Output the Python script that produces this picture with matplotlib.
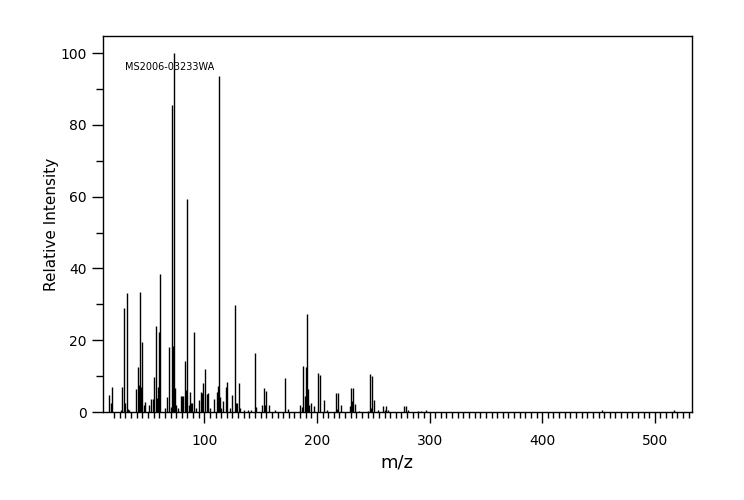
import matplotlib.pyplot as plt
import numpy as np

# picos do espectro (m/z, intensidade relativa)
mz = [15, 17, 18, 26, 27, 29, 30, 31, 32, 33, 39, 41, 42, 43, 44, 45, 46, 47,
      51, 53, 54, 55, 57, 58, 59, 60, 61, 65, 67, 69, 70, 71, 72, 73, 74, 75,
      77, 79, 80, 81, 83, 84, 85, 86, 87, 88, 89, 91, 93, 95, 97, 98, 99, 101,
      102, 103, 105, 109, 111, 112, 113, 114, 115, 117, 119, 120, 123, 125, 127,
      128, 129, 131, 132, 135, 139, 141, 145, 146, 151, 153, 154, 155, 157,
      163, 172, 174, 185, 187, 188, 189, 190, 191, 192, 193, 195, 197, 201,
      203, 206, 209, 217, 218, 219, 221, 229, 230, 231, 232, 234, 237, 245,
      247, 248, 249, 251, 254, 259, 260, 261, 263, 277, 279, 281, 290, 292,
      297, 453, 517]
inten = [4.7, 2.4, 7.0, 0.5, 6.9, 29.1, 2.4, 33.2, 0.8, 0.6, 6.4, 12.5, 7.5, 33.5, 7.0, 19.5, 2.0, 2.9,
         2.0, 3.5, 3.5, 9.8, 24.0, 4.0, 7.0, 22.3, 38.5, 1.0, 4.3, 18.0, 1.5, 85.5, 18.4, 100.0, 6.6, 2.0,
         1.0, 4.5, 4.5, 4.5, 14.2, 6.0, 59.4, 2.0, 5.7, 2.4, 2.4, 22.3, 1.0, 3.3, 5.7, 5.2, 8.0, 12.0,
         5.0, 5.4, 1.0, 3.6, 5.7, 7.2, 93.7, 4.3, 1.0, 3.0, 6.9, 8.5, 1.0, 4.7, 29.7,
         2.4, 2.4, 8.2, 1.0, 0.6, 0.6, 0.6, 16.5, 1.5, 2.0, 6.7, 2.0, 5.8, 2.0,
         0.5, 9.5, 0.8, 2.0, 1.5, 12.8, 4.5, 12.5, 27.3, 6.5, 2.0, 2.6, 1.7, 10.9,
         10.2, 3.3, 0.5, 5.4, 0.8, 5.4, 2.0, 1.7, 6.7, 3.0, 6.7, 2.2, 0.4, 0.4,
         10.6, 1.0, 10.0, 3.3, 0.5, 1.7, 0.5, 1.7, 0.5, 1.7, 1.7, 0.5, 0.4, 0.4,
         0.6, 0.5, 0.6]

fig = plt.figure(figsize=(7.44, 5.0), dpi=100)
ax = fig.add_axes([0.1384, 0.176, 0.7911, 0.752])

ax.vlines(mz, 0, inten, colors='black', linewidth=1.0)

ax.set_xlim(10, 532.6)
ax.set_ylim(0, 104.8)

ax.set_xticks(np.arange(100, 501, 100))
ax.set_xticks(np.arange(20, 531, 5), minor=True)
ax.set_yticks(np.arange(0, 101, 20))
ax.set_yticks(np.arange(10, 101, 20), minor=True)
ax.tick_params(axis='both', which='major', direction='out', length=8, width=1, labelsize=10)
ax.tick_params(axis='y', which='minor', direction='out', length=5, width=1)
ax.tick_params(axis='x', which='minor', direction='out', length=4, width=1)
ax.tick_params(axis='x', which='major', pad=8)

for s in ax.spines.values():
    s.set_linewidth(1)

ax.set_xlabel('m/z', fontsize=13)
ax.set_ylabel('Relative Intensity', fontsize=11, labelpad=1)

ax.text(29.5, 96.2, 'MS2006-03233WA', fontsize=7, va='center', ha='left')

fig.savefig('out.png', dpi=100)
